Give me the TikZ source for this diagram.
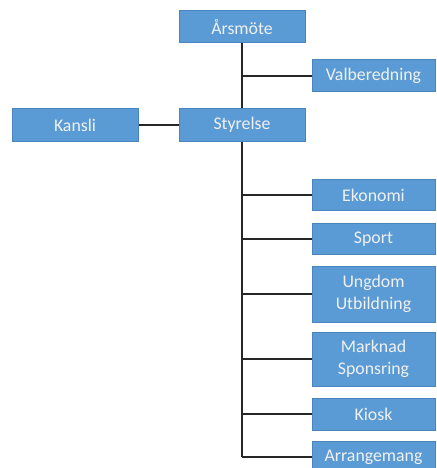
\documentclass[tikz,border=0pt]{standalone}
\usepackage{fontspec}
\setmainfont{Carlito}
\begin{document}
\begin{tikzpicture}[x=1pt,y=-1pt,
  orgbox/.style={draw=boxedge,line width=1pt,fill=boxfill,text=white!94!black,
    minimum width=123pt,minimum height=32pt,inner sep=0pt,align=center,
    font=\fontsize{17.8}{22}\selectfont},
  conn/.style={draw=black!85,line width=1.8pt}]
\definecolor{boxfill}{HTML}{5B9BD5}
\definecolor{boxedge}{HTML}{4A84BC}
\clip (0,0) rectangle (436,468);
\fill[white] (0,0) rectangle (436,468);
% nodes
\node[orgbox,minimum width=126pt] (ars) at (242,27) {Årsmöte};
\node[orgbox] (val) at (373.5,76) {Valberedning};
\node[orgbox,minimum width=126pt,minimum height=33pt] (kan) at (75,125) {Kansli};
\node[orgbox,minimum width=126pt,minimum height=33pt] (sty) at (242,125) {Styrelse};
\node[orgbox,minimum height=31pt] (eko) at (373.5,195) {Ekonomi};
\node[orgbox,minimum height=31pt] (spo) at (373.5,239) {Sport};
\node[orgbox,minimum height=56pt] (ung) at (373.5,294) {Ungdom\\Utbildning};
\node[orgbox,minimum height=54pt] (mar) at (373.5,359) {Marknad\\Sponsring};
\node[orgbox] (kio) at (373.5,414) {Kiosk};
\node[orgbox] (arr) at (373.5,457) {Arrangemang};
\coordinate (bot) at (sty.south |- arr.west);
% connectors
\draw[conn] (ars.south) -- (sty.north);
\draw[conn] (ars.south |- val.west) -- (val.west);
\draw[conn] (kan.east) -- (sty.west);
\draw[conn] (sty.south) -- (bot);
\draw[conn] (sty.south |- eko.west) -- (eko.west);
\draw[conn] (sty.south |- spo.west) -- (spo.west);
\draw[conn] (sty.south |- ung.west) -- (ung.west);
\draw[conn] (sty.south |- mar.west) -- (mar.west);
\draw[conn] (sty.south |- kio.west) -- (kio.west);
\draw[conn] (bot) -- (arr.west);
\end{tikzpicture}
\end{document}
